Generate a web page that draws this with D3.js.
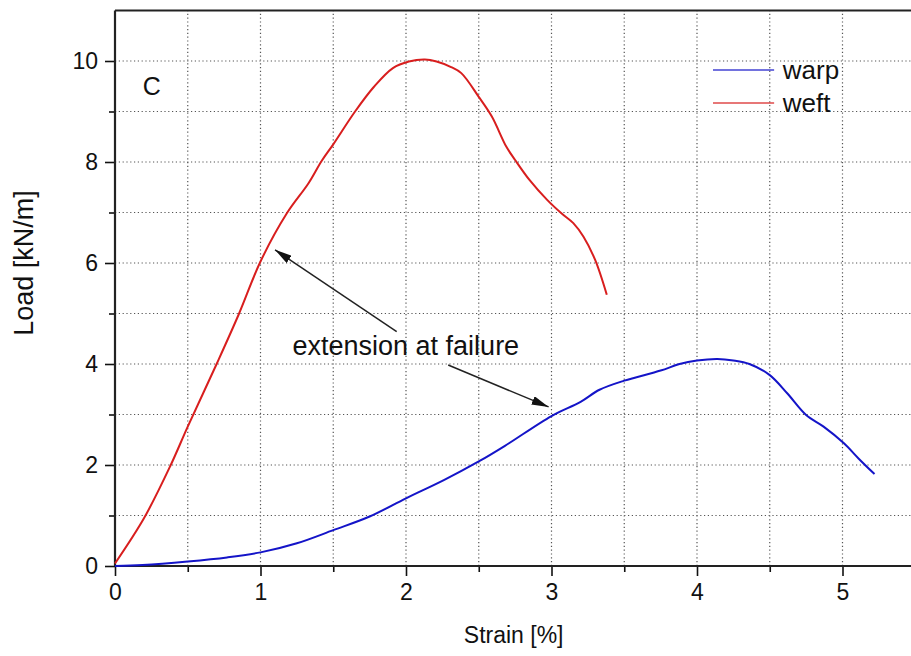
<!DOCTYPE html>
<html>
<head>
<meta charset="utf-8">
<script src="https://cdn.jsdelivr.net/npm/d3@7"></script>
<style>
  html, body { margin: 0; padding: 0; background: #fff; }
  svg { display: block; font-family: "Liberation Sans", Arial, sans-serif; }
</style>
</head>
<body>
<svg id="chart" width="911" height="656"></svg>
<script>
// ---- data ----
const weftStrain = [0, 0.2, 0.38, 0.5, 0.7, 0.85, 1.0, 1.18, 1.33, 1.42, 1.5, 1.65, 1.78, 1.91, 2.02, 2.13, 2.21, 2.31, 2.38, 2.5, 2.59, 2.69, 2.75, 2.85, 2.97, 3.07, 3.15, 3.22, 3.3, 3.38];
const weftLoad   = [0.05, 0.95, 1.98, 2.76, 4.01, 4.98, 6.03, 6.98, 7.58, 8.02, 8.35, 9.0, 9.49, 9.86, 9.99, 10.03, 9.99, 9.88, 9.76, 9.29, 8.9, 8.3, 8.04, 7.64, 7.25, 6.98, 6.79, 6.52, 6.06, 5.37];
const warpStrain = [0, 0.19, 0.5, 0.77, 1.0, 1.25, 1.5, 1.75, 2.0, 2.26, 2.5, 2.68, 3.0, 3.2, 3.33, 3.5, 3.75, 3.88, 4.0, 4.14, 4.25, 4.36, 4.5, 4.62, 4.75, 4.87, 5.01, 5.11, 5.22];
const warpLoad   = [0.0, 0.02, 0.09, 0.17, 0.27, 0.45, 0.71, 0.98, 1.34, 1.70, 2.07, 2.38, 2.97, 3.25, 3.49, 3.67, 3.87, 4.0, 4.07, 4.10, 4.07, 4.0, 3.78, 3.42, 2.99, 2.76, 2.43, 2.13, 1.82];
const xMajorTicks = [0, 1, 2, 3, 4, 5];
const xMinorTicks = [0.5, 1.5, 2.5, 3.5, 4.5, 5.5];
const yMajorTicks = [0, 2, 4, 6, 8, 10];
const yMinorTicks = [1, 3, 5, 7, 9];
const seriesNames = ["warp", "weft"];
const seriesColors = ["#1414c8", "#d81e1e"];
const xTitle = "Strain [%]";
const yTitle = "Load [kN/m]";
const panelLabel = "C";
const annotationText = "extension at failure";
// annotation anchor points in data units [strain, load]
const annotationTextAt = [1.22, 4.18];
const arrowFrom = [[1.936, 4.64], [2.29, 3.98]];
const arrowTo   = [[1.10, 6.26], [2.98, 3.15]];

// ---- layout ----
const svg = d3.select("#chart");
const plotLeft = 115, plotBottom = 566, plotTop = 10.5;
const x = d3.scaleLinear().domain([0, 5.5]).range([plotLeft, plotLeft + 5.5 * 145.5]);
const y = d3.scaleLinear().domain([0, 11]).range([plotBottom, plotTop]);

// grid
const grid = svg.append("g").attr("stroke", "#555").attr("stroke-width", 1.2).attr("stroke-dasharray", "1.2,2.6");
grid.selectAll("line.vx").data(xMajorTicks.concat(xMinorTicks).filter(d => d > 0)).join("line")
  .attr("class", "vx")
  .attr("x1", d => x(d)).attr("x2", d => x(d)).attr("y1", y(0)).attr("y2", y(11));
grid.selectAll("line.hy").data(yMajorTicks.concat(yMinorTicks).filter(d => d > 0)).join("line")
  .attr("class", "hy")
  .attr("x1", x(0)).attr("x2", x(5.5)).attr("y1", d => y(d)).attr("y2", d => y(d));

// axes
const xAxis = d3.axisBottom(x).tickValues(xMajorTicks).tickSize(10).tickPadding(8).tickFormat(d3.format("d"));
const xMinor = d3.axisBottom(x).tickValues(xMinorTicks).tickSize(6).tickFormat("");
const yAxis = d3.axisLeft(y).tickValues(yMajorTicks).tickSize(10).tickPadding(7).tickFormat(d3.format("d"));
const yMinor = d3.axisLeft(y).tickValues(yMinorTicks).tickSize(6).tickFormat("");

function styleAxis(g) {
  g.select(".domain").remove();
  g.selectAll(".tick line").attr("stroke", "#111").attr("stroke-width", 1.6);
  g.selectAll(".tick text").attr("fill", "#111").attr("font-size", 23).attr("font-family", "Liberation Sans, Arial, sans-serif");
}
svg.append("g").attr("transform", `translate(0,${plotBottom})`).call(xAxis).call(styleAxis);
svg.append("g").attr("transform", `translate(0,${plotBottom})`).call(xMinor).call(styleAxis);
svg.append("g").attr("transform", `translate(${plotLeft},0)`).call(yAxis).call(styleAxis);
svg.append("g").attr("transform", `translate(${plotLeft},0)`).call(yMinor).call(styleAxis);

// frame lines: left, bottom, top
const frame = svg.append("g").attr("stroke", "#222").attr("stroke-width", 2.2);
frame.append("line").attr("x1", x(0)).attr("x2", x(0)).attr("y1", y(0)).attr("y2", y(11));
frame.append("line").attr("x1", x(0)).attr("x2", x(5.5)).attr("y1", y(0)).attr("y2", y(0));
frame.append("line").attr("x1", x(0)).attr("x2", x(5.5)).attr("y1", y(11)).attr("y2", y(11));

// curves
const line = d3.line().x(d => x(d[0])).y(d => y(d[1])).curve(d3.curveCatmullRom.alpha(0.5));
const warp = warpStrain.map((s, i) => [s, warpLoad[i]]);
const weft = weftStrain.map((s, i) => [s, weftLoad[i]]);
svg.append("path").datum(warp).attr("d", line).attr("fill", "none").attr("stroke", seriesColors[0]).attr("stroke-width", 2);
svg.append("path").datum(weft).attr("d", line).attr("fill", "none").attr("stroke", seriesColors[1]).attr("stroke-width", 2);

// legend
const legend = svg.append("g");
seriesNames.forEach((name, i) => {
  const ly = y(9.82) + i * 33; // ~70 and ~103
  legend.append("line").attr("x1", x(4.11)).attr("x2", x(4.53)).attr("y1", ly).attr("y2", ly)
    .attr("stroke", seriesColors[i]).attr("stroke-width", 1.5).attr("opacity", 0.8);
  legend.append("text").attr("x", x(4.59)).attr("y", ly + 9).attr("font-size", 26).attr("fill", "#111").text(name);
});

// panel label
svg.append("text").attr("x", x(0.19)).attr("y", y(9.32)).attr("font-size", 25).attr("fill", "#111").text(panelLabel);

// annotation
const defs = svg.append("defs");
defs.append("marker").attr("id", "ah").attr("viewBox", "0 0 17 9").attr("refX", 17).attr("refY", 4.5)
  .attr("markerWidth", 17).attr("markerHeight", 9).attr("markerUnits", "userSpaceOnUse").attr("orient", "auto")
  .append("path").attr("d", "M0,0 L17,4.5 L0,9 Z").attr("fill", "#111");
arrowFrom.forEach((f, i) => {
  svg.append("line").attr("x1", x(f[0])).attr("y1", y(f[1])).attr("x2", x(arrowTo[i][0])).attr("y2", y(arrowTo[i][1]))
    .attr("stroke", "#222").attr("stroke-width", 1.5).attr("marker-end", "url(#ah)");
});
svg.append("text").attr("x", x(annotationTextAt[0])).attr("y", y(annotationTextAt[1])).attr("font-size", 27).attr("fill", "#111").text(annotationText);

// axis titles
svg.append("text").attr("x", x(2.74)).attr("y", 643).attr("text-anchor", "middle").attr("font-size", 23).attr("fill", "#111").text(xTitle);
svg.append("text").attr("transform", `translate(33,${y(6)}) rotate(-90)`).attr("text-anchor", "middle").attr("font-size", 27).attr("fill", "#111").text(yTitle);
</script>
</body>
</html>
